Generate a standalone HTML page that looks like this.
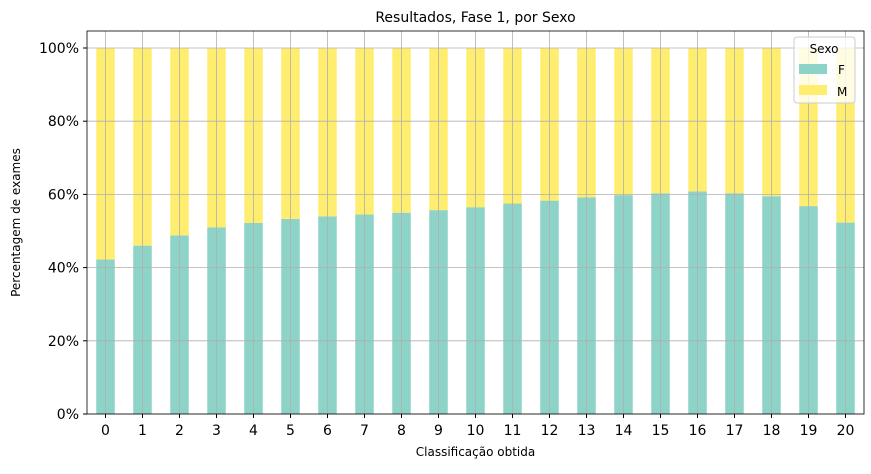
<!DOCTYPE html>
<html><head><meta charset="utf-8"><style>
body{margin:0;background:#fff;font-family:"Liberation Sans","DejaVu Sans",sans-serif}
</style></head><body>
<svg id="c" width="871" height="469" xmlns="http://www.w3.org/2000/svg" font-family="DejaVu Sans, Liberation Sans, sans-serif"></svg>
<script>
const categories=["0","1","2","3","4","5","6","7","8","9","10","11","12","13","14","15","16","17","18","19","20"];
const femaleValues=[42.2,46,48.8,51,52.2,53.3,54,54.5,55,55.7,56.5,57.5,58.3,59.2,59.8,60.3,60.8,60.3,59.5,56.8,52.3];
const yTicks=[0,20,40,60,80,100];
const yTickLabels=["0%","20%","40%","60%","80%","100%"];
const svg=document.getElementById('c');
const NS='http://www.w3.org/2000/svg';
const L=87,R=864,T=31,B=414;
function y(v){return B-(v/100)*(B-48);}
const step=(R-L)/categories.length;
function x(i){return L+step*(i+0.5);}
const bw=step*0.5;
function mk(t,a,p){const e=document.createElementNS(NS,t);for(const k in a)e.setAttribute(k,a[k]);(p||svg).appendChild(e);return e;}
const bars=mk('g',{});


categories.forEach((c,i)=>{
 const f=femaleValues[i];
 const r1=mk('rect',{x:x(i)-bw/2,y:y(f),width:bw,height:B-y(f),fill:'#8dd3c7'},bars);
 
 
 const r2=mk('rect',{x:x(i)-bw/2,y:y(100),width:bw,height:y(f)-y(100),fill:'#ffed6f'},bars);
 
 
});
const grid=mk('g',{stroke:'#b0b0b0','stroke-width':0.8});


yTicks.forEach(v=>mk('line',{x1:L,x2:R,y1:y(v),y2:y(v)},grid));
categories.forEach((c,i)=>mk('line',{x1:x(i),x2:x(i),y1:T,y2:B},grid));
const frame=mk('rect',{x:L,y:T,width:R-L,height:B-T,fill:'none',stroke:'#000','stroke-width':0.8});


yTicks.forEach((v,i)=>{
 mk('line',{x1:L-4,x2:L,y1:y(v),y2:y(v),stroke:'#000'});
 const t=mk('text',{x:L-8,y:y(v)+5,'text-anchor':'end','font-size':14});
 t.textContent=yTickLabels[i];
 
 
});
categories.forEach((c,i)=>{
 mk('line',{x1:x(i),x2:x(i),y1:B,y2:B+4,stroke:'#000'});
 const t=mk('text',{x:x(i),y:B+21,'text-anchor':'middle','font-size':14});
 t.textContent=c;
 
 
});
let t=mk('text',{x:(L+R)/2,y:22,'text-anchor':'middle','font-size':14});t.textContent='Resultados, Fase 1, por Sexo';


t=mk('text',{x:(L+R)/2,y:456,'text-anchor':'middle','font-size':12});t.textContent='Classificação obtida';


t=mk('text',{x:20,y:(T+B)/2,'text-anchor':'middle','font-size':12,transform:'rotate(-90 20 '+((T+B)/2)+')'});t.textContent='Percentagem de exames';


const lg=mk('g',{});


mk('rect',{x:794,y:37,width:61,height:66,rx:3,fill:'#fff','fill-opacity':0.8,stroke:'#ccc'},lg);
t=mk('text',{x:824,y:53,'text-anchor':'middle','font-size':12},lg);t.textContent='Sexo';
mk('rect',{x:799,y:64,width:28,height:10,fill:'#8dd3c7'},lg);
t=mk('text',{x:838,y:74,'font-size':12},lg);t.textContent='F';
mk('rect',{x:799,y:85,width:28,height:10,fill:'#ffed6f'},lg);
t=mk('text',{x:837,y:96,'font-size':12},lg);t.textContent='M';
</script>
</body></html>
